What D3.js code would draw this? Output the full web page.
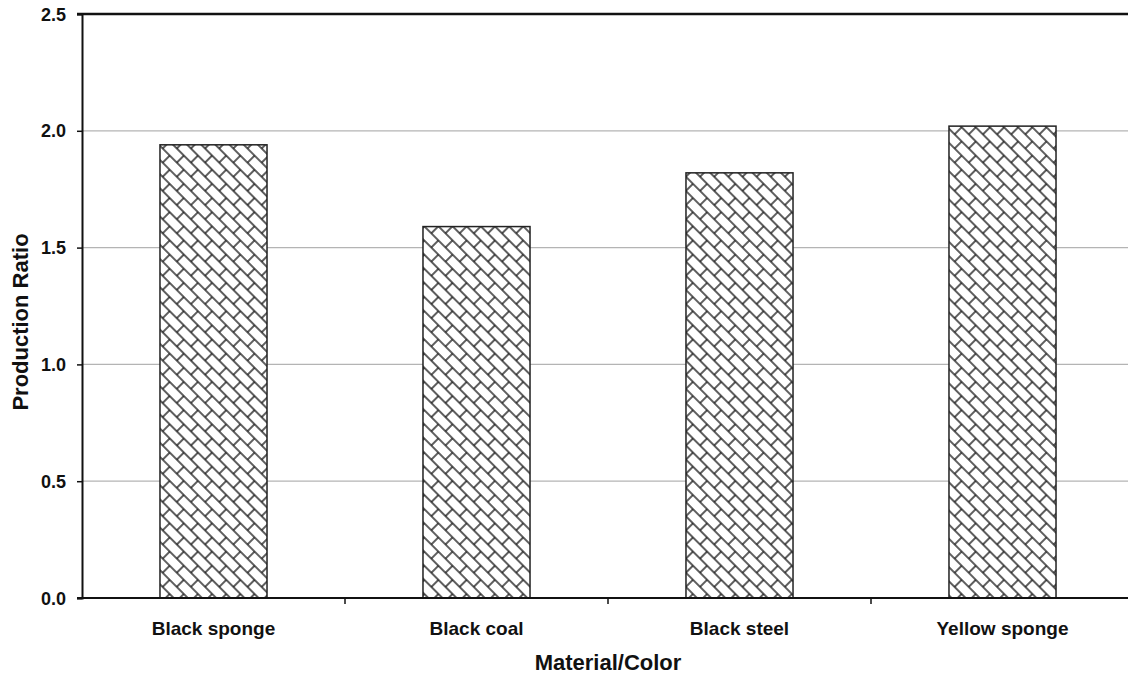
<!DOCTYPE html>
<html>
<head>
<meta charset="utf-8">
<script src="https://cdn.jsdelivr.net/npm/d3@7"></script>
<style>
  html, body { margin: 0; padding: 0; background: #fff; }
  svg { display: block; }
  text { font-family: "Liberation Sans", Arial, Helvetica, sans-serif; font-weight: bold; fill: #111; }
</style>
</head>
<body>
<svg id="chart" width="1128" height="675"></svg>
<script>
const categories = ["Black sponge", "Black coal", "Black steel", "Yellow sponge"];
const values = [1.94, 1.59, 1.82, 2.02];
const yTickValues = [0, 0.5, 1.0, 1.5, 2.0, 2.5];
const yTickLabels = ["0.0", "0.5", "1.0", "1.5", "2.0", "2.5"];
const xTitle = "Material/Color";
const yTitle = "Production Ratio";

(function () {
const W = 1128, H = 675;
const plotLeft = 82, plotTop = 14, plotBottom = 598, plotRightEnd = 1134;

const svg = d3.select("#chart");

// pattern: diagonal weave / brick
const defs = svg.append("defs");
const pw = 20, ph = 20;
const pat = defs.append("pattern")
  .attr("id", "weave")
  .attr("patternUnits", "userSpaceOnUse")
  .attr("width", pw).attr("height", ph)
  .attr("patternTransform", "rotate(45)");
pat.append("rect").attr("width", pw).attr("height", ph).attr("fill", "#fff");
const ps = "#1a1a1a", psw = 1.4;
const segs = [
  [0, 0, pw, 0], [0, ph / 2, pw, ph / 2], [0, ph, pw, ph],
  [0, 0, 0, ph / 2], [pw, 0, pw, ph / 2], [pw / 2, ph / 2, pw / 2, ph]
];
pat.selectAll("line").data(segs).join("line")
  .attr("x1", d => d[0]).attr("y1", d => d[1]).attr("x2", d => d[2]).attr("y2", d => d[3])
  .attr("stroke", ps).attr("stroke-width", psw);

const y = d3.scaleLinear().domain([0, 2.5]).range([plotBottom, plotTop]);
const xb = d3.scaleBand().domain(categories).range([plotLeft, plotRightEnd]).padding(0);
const pi = 0.593;
const x = d3.scaleBand().domain(categories).range([plotLeft, plotRightEnd])
  .paddingInner(pi).paddingOuter(pi / 2);

// gridlines
svg.append("g").selectAll("line")
  .data(yTickValues.filter(v => v > 0 && v < 2.5))
  .join("line")
  .attr("x1", plotLeft).attr("x2", W)
  .attr("y1", d => y(d)).attr("y2", d => y(d))
  .attr("stroke", "#b4b4b4").attr("stroke-width", 1.3);

// bars
svg.append("g").selectAll("rect")
  .data(categories)
  .join("rect")
  .attr("x", d => x(d))
  .attr("y", (d, i) => y(values[i]))
  .attr("width", x.bandwidth())
  .attr("height", (d, i) => y(0) - y(values[i]))
  .attr("fill", "url(#weave)")
  .attr("stroke", "#222").attr("stroke-width", 1.5);

// top border
svg.append("line").attr("x1", plotLeft - 5).attr("x2", W)
  .attr("y1", y(2.5)).attr("y2", y(2.5))
  .attr("stroke", "#111").attr("stroke-width", 2.5);

// y axis
const yAxis = d3.axisLeft(y).tickValues(yTickValues)
  .tickFormat((d, i) => yTickLabels[i]).tickSize(5).tickPadding(11);
const gy = svg.append("g").attr("transform", `translate(${plotLeft},0)`).call(yAxis);
gy.select(".domain").attr("stroke", "#111").attr("stroke-width", 2);
gy.selectAll(".tick line").attr("stroke", "#111").attr("stroke-width", 1.5);
gy.selectAll(".tick text").attr("font-size", 18).attr("font-family", null).attr("fill", "#111")
  .attr("dy", "0.34em");

// x axis line
svg.append("line").attr("x1", plotLeft - 5).attr("x2", W)
  .attr("y1", y(0)).attr("y2", y(0))
  .attr("stroke", "#111").attr("stroke-width", 2);

// x ticks at band boundaries
svg.append("g").selectAll("line")
  .data(categories.slice(1))
  .join("line")
  .attr("x1", d => xb(d)).attr("x2", d => xb(d))
  .attr("y1", y(0)).attr("y2", y(0) + 6)
  .attr("stroke", "#111").attr("stroke-width", 1.5);

// category labels
svg.append("g").selectAll("text")
  .data(categories)
  .join("text")
  .attr("x", d => xb(d) + xb.bandwidth() / 2)
  .attr("y", 635)
  .attr("text-anchor", "middle")
  .attr("font-size", 19)
  .text(d => d);

// axis titles
svg.append("text")
  .attr("x", (plotLeft + plotRightEnd) / 2).attr("y", 670)
  .attr("text-anchor", "middle").attr("font-size", 22)
  .text(xTitle);

svg.append("text")
  .attr("transform", `translate(28,${322}) rotate(-90)`)
  .attr("text-anchor", "middle").attr("font-size", 22)
  .text(yTitle);
})();
</script>
</body>
</html>
